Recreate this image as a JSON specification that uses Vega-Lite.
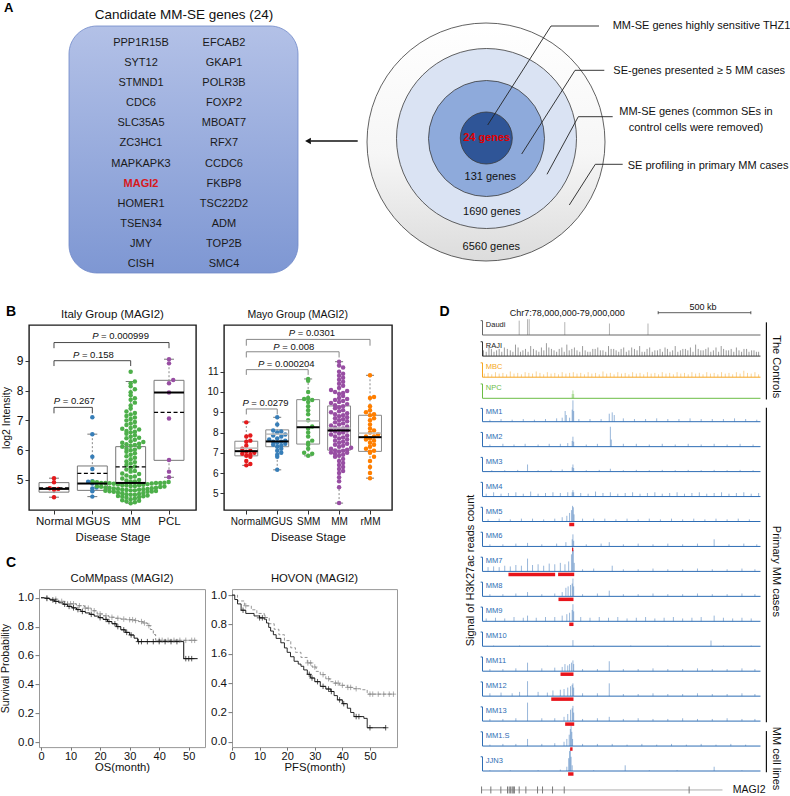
{
"$schema":"https://vega.github.io/schema/vega-lite/v6.json",
"padding":0,
"background":"white",
"spacing":12,
"bounds":"full",
"config":{
 "font":"Liberation Sans",
 "view":{"stroke":null},
 "axis":{"grid":false,"domain":false,"labelColor":"#111","titleColor":"#111","tickColor":"#333","titleFontWeight":"normal","labelFont":"Liberation Sans","titleFont":"Liberation Sans"},
 "text":{"font":"Liberation Sans"}
},
"datasets":{
 "genes":[
  {"gene":"PPP1R15B","col":1,"row":1},{"gene":"EFCAB2","col":2,"row":1},
  {"gene":"SYT12","col":1,"row":2},{"gene":"GKAP1","col":2,"row":2},
  {"gene":"STMND1","col":1,"row":3},{"gene":"POLR3B","col":2,"row":3},
  {"gene":"CDC6","col":1,"row":4},{"gene":"FOXP2","col":2,"row":4},
  {"gene":"SLC35A5","col":1,"row":5},{"gene":"MBOAT7","col":2,"row":5},
  {"gene":"ZC3HC1","col":1,"row":6},{"gene":"RFX7","col":2,"row":6},
  {"gene":"MAPKAPK3","col":1,"row":7},{"gene":"CCDC6","col":2,"row":7},
  {"gene":"MAGI2","col":1,"row":8},{"gene":"FKBP8","col":2,"row":8},
  {"gene":"HOMER1","col":1,"row":9},{"gene":"TSC22D2","col":2,"row":9},
  {"gene":"TSEN34","col":1,"row":10},{"gene":"ADM","col":2,"row":10},
  {"gene":"JMY","col":1,"row":11},{"gene":"TOP2B","col":2,"row":11},
  {"gene":"CISH","col":1,"row":12},{"gene":"SMC4","col":2,"row":12}
 ],
 "circles":[
  {"k":"c1","x":485,"y":142,"r":119},
  {"k":"c2","x":485.5,"y":138.5,"r":90},
  {"k":"c3","x":485.5,"y":138.5,"r":58},
  {"k":"c4","x":485.3,"y":138,"r":26}
 ],
 "atext":[
  {"role":"title","txt":"Candidate MM-SE genes (24)","x":183,"y":15},
  {"role":"letter","txt":"A","x":3,"y":8},
  {"role":"core","txt":"24 genes","x":485.7,"y":137.7},
  {"role":"count","txt":"131 genes","x":489.2,"y":177.3},
  {"role":"count","txt":"1690 genes","x":490.8,"y":212.3},
  {"role":"count","txt":"6560 genes","x":490.3,"y":247},
  {"role":"note","txt":"MM-SE genes highly sensitive THZ1","x":611.7,"y":26},
  {"role":"note","txt":"SE-genes presented ≥ 5 MM cases","x":612.3,"y":71},
  {"role":"note","txt":"SE profiling in primary MM cases","x":626.7,"y":165.5},
  {"role":"note2","txt":"MM-SE genes (common SEs in","x":695,"y":112.3},
  {"role":"note2","txt":"control cells were removed)","x":695,"y":127.8}
 ],
 "callouts":[
  {"id":1,"o":1,"x":486.7,"y":125},{"id":1,"o":2,"x":550,"y":26},{"id":1,"o":3,"x":598,"y":26},
  {"id":2,"o":1,"x":520.7,"y":154},{"id":2,"o":2,"x":574,"y":70.3},{"id":2,"o":3,"x":603.3,"y":70.3},
  {"id":3,"o":1,"x":546,"y":174.3},{"id":3,"o":2,"x":577.3,"y":116.7},{"id":3,"o":3,"x":611.7,"y":116.7},
  {"id":4,"o":1,"x":568.3,"y":205},{"id":4,"o":2,"x":594.3,"y":164.3},{"id":4,"o":3,"x":621.7,"y":164.3}
 ],
 "itS":[
  {"g":"Normal","i":1,"lo":4.42,"q1":4.59,"med":4.70,"q3":4.91,"hi":5.06,"mean":4.73},
  {"g":"MGUS","i":2,"lo":4.44,"q1":4.65,"med":4.88,"q3":5.47,"hi":6.54,"mean":5.22},
  {"g":"MM","i":3,"lo":4.22,"q1":4.90,"med":4.90,"q3":6.12,"hi":8.31,"mean":5.44},
  {"g":"PCL","i":4,"lo":5.09,"q1":5.66,"med":7.94,"q3":8.35,"hi":9.06,"mean":7.27}
 ],
 "itP":[
  {"g":"Normal","i":1,"v":[5.06,4.92,4.72,4.70,4.68,4.42]},
  {"g":"MGUS","i":2,"v":[7.11,6.54,5.78,5.37,4.96,4.94,4.9,4.88,4.75,4.71,4.62,4.44]},
  {"g":"MM","i":3,"v":[4.22,4.25,4.28,4.3,4.32,4.35,4.38,4.4,4.42,4.44,4.45,4.46,4.48,4.5,4.5,4.52,4.53,4.55,4.56,4.58,4.6,4.6,4.61,4.62,4.63,4.64,4.65,4.65,4.66,4.67,4.68,4.69,4.7,4.7,4.71,4.72,4.73,4.74,4.75,4.76,4.77,4.78,4.79,4.8,4.8,4.81,4.82,4.83,4.84,4.85,4.86,4.87,4.88,4.89,4.9,4.9,4.9,4.9,4.91,4.92,4.93,4.94,4.95,4.95,4.98,5.0,5.05,5.1,5.12,5.15,5.2,5.22,5.28,5.3,5.35,5.4,5.45,5.5,5.55,5.6,5.62,5.7,5.75,5.8,5.85,5.9,5.95,6.0,6.02,6.05,6.1,6.12,6.15,6.18,6.2,6.22,6.25,6.28,6.3,6.35,6.4,6.42,6.45,6.5,6.55,6.6,6.62,6.65,6.7,6.72,6.75,6.8,6.85,6.9,6.95,7.0,7.05,7.1,7.15,7.2,7.25,7.3,7.4,7.5,7.6,7.7,7.75,7.85,7.95,8.05,8.15,8.25,8.31,8.64]},
  {"g":"PCL","i":4,"v":[9.06,8.92,8.36,8.25,7.94,7.07,5.67,5.28,5.09]}
 ],
 "itB":[
  {"l":"P = 0.267","i1":1,"i2":2,"top":7.44,"drop":7.24,"ty":7.66},
  {"l":"P = 0.158","i1":1,"i2":3,"top":9.01,"drop":8.83,"ty":9.20},
  {"l":"P = 0.000999","i1":1,"i2":4,"top":9.62,"drop":9.43,"ty":9.85}
 ],
 "mayS":[
  {"g":"Normal","i":1,"lo":6.38,"q1":6.85,"med":7.08,"q3":7.57,"hi":8.52,"mean":7.23},
  {"g":"MGUS","i":2,"lo":6.16,"q1":7.30,"med":7.56,"q3":8.13,"hi":8.75,"mean":7.92},
  {"g":"SMM","i":3,"lo":6.85,"q1":7.43,"med":8.26,"q3":9.62,"hi":10.64,"mean":8.57},
  {"g":"MM","i":4,"lo":4.52,"q1":7.13,"med":8.10,"q3":9.31,"hi":11.49,"mean":8.22},
  {"g":"rMM","i":5,"lo":5.75,"q1":7.07,"med":7.77,"q3":8.85,"hi":10.82,"mean":7.97}
 ],
 "mayP":[
  {"g":"Normal","i":1,"v":[8.5,7.85,7.8,7.6,7.55,7.35,7.2,7.1,7.05,7.0,6.95,6.9,6.85,6.8,6.6,6.45,6.38]},
  {"g":"MGUS","i":2,"v":[8.75,8.4,8.1,8.05,8.0,7.9,7.85,7.8,7.7,7.65,7.6,7.55,7.55,7.5,7.45,7.4,7.35,7.3,7.2,7.1,7.0,6.9,6.8,6.16]},
  {"g":"SMM","i":3,"v":[10.64,10.55,10.0,9.7,9.65,9.6,9.5,9.3,9.1,8.9,8.6,8.3,8.2,8.0,7.8,7.6,7.5,7.4,7.2,7.0,6.95,6.85]},
  {"g":"MM","i":4,"v":[11.49,11.3,11.2,11.0,10.9,10.8,10.7,10.6,10.5,10.4,10.3,10.2,10.1,10.05,10.0,9.95,9.9,9.8,9.7,9.65,9.6,9.55,9.5,9.45,9.4,9.35,9.3,9.25,9.2,9.1,9.05,9.0,8.95,8.9,8.85,8.8,8.75,8.7,8.65,8.6,8.55,8.5,8.45,8.4,8.35,8.3,8.25,8.2,8.15,8.12,8.1,8.05,8.0,7.95,7.9,7.85,7.8,7.75,7.7,7.65,7.6,7.55,7.5,7.45,7.4,7.35,7.3,7.25,7.2,7.15,7.12,7.1,7.05,7.02,7.0,6.95,6.9,6.85,6.8,6.7,6.6,6.5,6.4,6.3,6.2,6.1,6.0,5.8,5.6,5.3,4.52]},
  {"g":"rMM","i":5,"v":[10.82,9.75,9.7,9.3,9.1,9.0,8.9,8.85,8.7,8.6,8.4,8.2,8.1,8.0,7.9,7.8,7.8,7.7,7.65,7.6,7.5,7.4,7.3,7.2,7.1,7.05,7.0,6.8,6.6,6.3,6.0,5.75]}
 ],
 "mayB":[
  {"l":"P = 0.0279","i1":1,"i2":2,"top":9.16,"drop":8.89,"ty":9.46},
  {"l":"P = 0.000204","i1":1,"i2":3,"top":11.10,"drop":10.84,"ty":11.38},
  {"l":"P = 0.008","i1":1,"i2":4,"top":11.98,"drop":11.70,"ty":12.23},
  {"l":"P = 0.0301","i1":1,"i2":5,"top":12.59,"drop":12.28,"ty":12.89}
 ],
 "km":[
  {"study":"CoMM","grp":"Bottom 50%","pt":[[0,1.0],[3,0.99],[6,0.975],[9,0.958],[12,0.945],[14.7,0.928],[17,0.91],[19,0.888],[21,0.875],[23,0.865],[24.8,0.858],[27,0.852],[29,0.848],[31.6,0.842],[33,0.835],[34.5,0.825],[36,0.807],[37,0.78],[38,0.745],[38.8,0.705],[53,0.705]]},
  {"study":"CoMM","grp":"Top 50%","pt":[[0,1.0],[1.5,0.995],[3,0.985],[4.5,0.975],[6,0.965],[7.5,0.955],[9,0.94],[10.5,0.93],[12,0.918],[13.5,0.905],[15,0.895],[16.5,0.885],[18,0.873],[19.5,0.862],[21,0.85],[22.5,0.835],[24,0.82],[25.5,0.8],[27,0.778],[28.5,0.76],[30,0.742],[31.5,0.72],[32.7,0.696],[48.3,0.578],[53,0.578]]},
  {"study":"HOVON","grp":"Bottom 50%","pt":[[0,1.0],[2,0.96],[4.5,0.927],[7,0.9],[9,0.875],[11.7,0.847],[13.5,0.805],[15.3,0.767],[17,0.73],[19,0.69],[21.3,0.641],[23,0.61],[25,0.575],[27.3,0.538],[29,0.51],[30.5,0.48],[32,0.458],[34,0.43],[35.5,0.41],[37,0.4],[39,0.385],[41.8,0.371],[44,0.362],[46.6,0.355],[49,0.325],[58.7,0.325]]},
  {"study":"HOVON","grp":"Top 50%","pt":[[0,1.0],[1,0.97],[2,0.94],[3.3,0.897],[5,0.875],[8,0.858],[10,0.845],[11.7,0.835],[12.5,0.81],[13.3,0.78],[14,0.755],[15,0.73],[16,0.705],[17.7,0.675],[19,0.64],[20,0.61],[21.2,0.58],[22.5,0.549],[24,0.53],[25,0.515],[26,0.49],[27.3,0.46],[28.5,0.435],[30,0.41],[32,0.378],[34,0.36],[35.8,0.343],[37,0.315],[38.2,0.286],[40,0.26],[41.8,0.229],[43,0.2],[44.2,0.172],[47.8,0.16],[49,0.096],[55.7,0.096]]}
 ],
 "cens":[
  {"study":"CoMM","grp":"Top 50%","pt":[[2,0.995],[4,0.985],[5,0.975],[8,0.955],[9.5,0.94],[11,0.93],[12.5,0.918],[14,0.905],[17,0.885],[20,0.862],[22,0.85],[23,0.835],[25,0.82],[26,0.8],[28,0.778],[29,0.76],[30.5,0.742],[33,0.696],[34,0.696],[36,0.696],[38,0.696],[40,0.696],[42,0.696],[44,0.696],[46,0.696],[49,0.578],[50,0.578],[51,0.578]]},
  {"study":"CoMM","grp":"Bottom 50%","pt":[[2,1.0],[5,0.99],[7,0.975],[10,0.958],[11,0.958],[13,0.945],[15,0.928],[16,0.928],[18,0.91],[20,0.888],[22,0.875],[24,0.865],[26,0.858],[28,0.852],[30,0.848],[31,0.848],[32,0.842],[34,0.835],[35,0.825],[36.5,0.807],[40,0.705],[41,0.705],[43,0.705],[45,0.705],[47,0.705],[49,0.705],[51,0.705],[52,0.705]]},
  {"study":"HOVON","grp":"Top 50%","pt":[[4,0.897],[10,0.845],[11,0.845],[28,0.46],[29,0.435],[31,0.41],[33,0.378],[35,0.36],[36,0.343],[39,0.286],[40.5,0.26],[45,0.172],[46,0.172],[50,0.096],[55.7,0.096]]},
  {"study":"HOVON","grp":"Bottom 50%","pt":[[5,0.927],[12,0.847],[27.5,0.538],[28.5,0.538],[30,0.51],[33,0.458],[35,0.43],[37.5,0.4],[38.5,0.4],[40,0.385],[42,0.371],[43,0.371],[45,0.362],[50,0.325],[51,0.325],[53,0.325],[55,0.325],[57,0.325],[58.5,0.325]]}
 ],
 "tracks":[
  {"t":"Daudi","i":0},{"t":"RAJI","i":1},{"t":"MBC","i":2},{"t":"NPC","i":3},
  {"t":"MM1","i":4},{"t":"MM2","i":5},{"t":"MM3","i":6},{"t":"MM4","i":7},{"t":"MM5","i":8},
  {"t":"MM6","i":9},{"t":"MM7","i":10},{"t":"MM8","i":11},{"t":"MM9","i":12},{"t":"MM10","i":13},
  {"t":"MM11","i":14},{"t":"MM12","i":15},{"t":"MM13","i":16},{"t":"MM1.S","i":17},{"t":"JJN3","i":18}
 ],
 "spk":[
  {"t":"Daudi","i":0,"s":[[198,1.0],[243,1.1],[252,1.1],[444,0.9],[685,0.8],[893,0.8]]},
  {"t":"RAJI","i":1,"s":[[5,0.4],[20,0.3],[35,0.7],[48,0.5],[62,0.3],[76,0.4],[90,0.5],[104,0.3],[118,0.6],[134,0.5],[150,0.4],[164,0.3],[178,0.8],[192,0.6],[205,0.3],[218,0.4],[232,0.5],[246,0.3],[260,0.7],[275,0.5],[290,0.4],[304,0.3],[318,0.6],[331,0.4],[345,0.9],[358,0.6],[372,0.5],[386,0.4],[400,0.3],[414,0.5],[428,0.6],[441,0.3],[455,0.8],[468,0.4],[482,0.5],[496,0.6],[510,0.4],[525,0.3],[540,0.7],[554,0.4],[568,0.3],[581,0.3],[595,0.5],[608,0.5],[622,0.6],[636,0.4],[650,0.4],[665,0.3],[680,0.7],[694,0.5],[708,0.5],[721,0.4],[735,0.3],[748,0.5],[762,0.6],[776,0.3],[790,0.4],[805,0.6],[820,0.5],[834,0.4],[848,0.7],[861,0.3],[875,0.3],[888,0.5],[902,0.6],[916,0.3],[930,0.4],[944,0.4],[958,0.5],[971,0.3],[985,0.6],[998,0.5],[1012,0.3],[1026,0.4],[1040,0.7],[1054,0.3],[1068,0.4],[1081,0.5],[1095,0.5],[1108,0.4],[1122,0.6],[1136,0.3],[1150,0.8],[1164,0.5],[1178,0.4],[1191,0.4],[1205,0.5],[1218,0.6],[1232,0.3],[1246,0.4],[1260,0.6],[1274,0.3],[1288,0.7],[1301,0.5],[1315,0.4],[1328,0.4],[1342,0.5],[1356,0.3],[1370,0.6],[1384,0.4],[1398,0.3],[1411,0.5],[1425,0.5],[1438,0.3],[1452,0.4],[1465,0.4],[1478,0.3],[1490,0.3]]},
  {"t":"MBC","i":2,"s":[[10,0.25],[30,0.3],[50,0.2],[70,0.35],[90,0.25],[110,0.3],[130,0.2],[150,0.4],[170,0.25],[190,0.3],[210,0.2],[230,0.35],[250,0.3],[270,0.25],[290,0.4],[310,0.3],[330,0.2],[350,0.35],[370,0.25],[390,0.3],[410,0.2],[430,0.35],[450,0.25],[470,0.3],[490,0.35],[510,0.25],[530,0.3],[550,0.2],[570,0.35],[590,0.25],[610,0.3],[630,0.2],[650,0.4],[670,0.25],[690,0.3],[710,0.2],[730,0.35],[750,0.25],[770,0.3],[790,0.2],[810,0.35],[830,0.25],[850,0.3],[870,0.2],[890,0.35],[910,0.25],[930,0.3],[950,0.2],[970,0.35],[990,0.25],[1010,0.3],[1030,0.2],[1050,0.35],[1070,0.25],[1090,0.3],[1110,0.2],[1130,0.35],[1150,0.25],[1170,0.3],[1190,0.2],[1210,0.35],[1230,0.25],[1250,0.3],[1270,0.2],[1290,0.35],[1310,0.25],[1330,0.3],[1350,0.2],[1370,0.35],[1390,0.25],[1410,0.45],[1430,0.3],[1450,0.25],[1470,0.35],[1490,0.2]]},
  {"t":"NPC","i":3,"s":[[484,0.3],[488,0.55],[492,0.3]]},
  {"t":"MM1","i":4,"s":[[40,0.15],[100,0.2],[160,0.15],[220,0.2],[280,0.15],[340,0.2],[400,0.25],[430,0.3],[446,0.8],[452,0.5],[470,0.3],[484,0.9],[488,1.6],[492,0.8],[520,0.2],[580,0.2],[640,0.2],[684,0.6],[700,0.7],[711,0.5],[760,0.25],[820,0.2],[880,0.2],[940,0.25],[1000,0.2],[1060,0.2],[1120,0.25],[1180,0.2],[1240,0.2],[1300,0.2],[1360,0.25],[1420,0.2],[1480,0.15]]},
  {"t":"MM2","i":5,"s":[[40,0.15],[110,0.2],[170,0.15],[230,0.2],[300,0.15],[360,0.2],[420,0.2],[460,0.25],[484,0.4],[488,0.7],[492,0.35],[560,0.15],[620,0.2],[690,1.4],[695,0.5],[760,0.2],[830,0.2],[900,0.15],[970,0.2],[1040,0.15],[1110,0.2],[1180,0.15],[1250,0.2],[1320,0.15],[1390,0.2],[1460,0.15]]},
  {"t":"MM3","i":6,"s":[[50,0.1],[120,0.1],[190,0.12],[243,0.5],[300,0.1],[370,0.12],[430,0.15],[484,0.3],[488,0.5],[492,0.25],[560,0.1],[630,0.12],[690,0.2],[760,0.1],[830,0.12],[900,0.1],[970,0.12],[1040,0.1],[1110,0.12],[1180,0.1],[1250,0.12],[1320,0.1],[1390,0.12],[1460,0.1]]},
  {"t":"MM4","i":7,"s":[[20,0.2],[60,0.3],[100,0.2],[140,0.25],[180,0.3],[220,0.2],[260,0.35],[300,0.2],[340,0.25],[380,0.3],[420,0.25],[460,0.3],[484,0.3],[488,0.45],[492,0.3],[530,0.25],[570,0.2],[610,0.35],[650,0.25],[690,0.3],[730,0.2],[770,0.25],[810,0.3],[850,0.2],[890,0.25],[930,0.3],[970,0.2],[1010,0.25],[1050,0.3],[1090,0.2],[1130,0.25],[1170,0.3],[1210,0.2],[1250,0.25],[1290,0.3],[1330,0.2],[1370,0.25],[1410,0.3],[1450,0.2],[1490,0.25]]},
  {"t":"MM5","i":8,"s":[[30,0.15],[90,0.2],[150,0.15],[210,0.2],[270,0.2],[330,0.15],[390,0.2],[430,0.3],[455,0.4],[470,0.6],[480,0.8],[486,1.1],[490,1.0],[494,0.5],[540,0.2],[600,0.2],[660,0.2],[720,0.15],[780,0.2],[840,0.15],[900,0.2],[960,0.15],[1020,0.2],[1080,0.15],[1140,0.2],[1200,0.15],[1260,0.2],[1320,0.15],[1380,0.2],[1440,0.15]]},
  {"t":"MM6","i":9,"s":[[40,0.15],[110,0.15],[180,0.2],[243,0.25],[320,0.15],[400,0.2],[450,0.3],[484,0.5],[488,0.85],[492,0.4],[560,0.15],[640,0.2],[684,0.3],[760,0.15],[840,0.2],[920,0.15],[1000,0.2],[1080,0.15],[1160,0.2],[1250,0.5],[1330,0.15],[1410,0.2],[1480,0.15]]},
  {"t":"MM7","i":10,"s":[[30,0.3],[60,0.35],[90,0.3],[120,0.4],[150,0.35],[180,0.45],[210,0.4],[243,0.9],[270,0.45],[300,0.5],[330,0.4],[360,0.55],[390,0.5],[420,0.6],[445,0.5],[465,0.7],[480,1.2],[486,1.75],[490,1.5],[495,0.6],[540,0.15],[600,0.2],[700,0.4],[760,0.15],[840,0.15],[920,0.2],[1000,0.15],[1080,0.15],[1160,0.2],[1240,0.15],[1320,0.15],[1400,0.2],[1470,0.15]]},
  {"t":"MM8","i":11,"s":[[40,0.15],[110,0.15],[180,0.2],[243,0.3],[320,0.15],[390,0.2],[430,0.3],[450,0.6],[462,0.7],[475,0.8],[484,0.9],[488,1.25],[492,0.7],[540,0.15],[620,0.2],[684,0.4],[760,0.15],[840,0.15],[920,0.2],[1000,0.15],[1080,0.15],[1160,0.2],[1240,0.15],[1320,0.15],[1400,0.2],[1470,0.15]]},
  {"t":"MM9","i":12,"s":[[20,0.2],[70,0.25],[120,0.2],[170,0.3],[220,0.25],[243,0.4],[290,0.25],[340,0.3],[390,0.3],[430,0.4],[455,0.5],[470,0.6],[484,0.8],[488,1.2],[492,0.7],[530,0.3],[580,0.25],[630,0.3],[680,0.25],[730,0.3],[780,0.2],[830,0.25],[880,0.3],[930,0.2],[980,0.25],[1030,0.3],[1080,0.2],[1130,0.25],[1180,0.3],[1250,0.4],[1300,0.25],[1350,0.2],[1400,0.25],[1450,0.2]]},
  {"t":"MM10","i":13,"s":[[60,0.05],[200,0.05],[350,0.05],[488,0.43],[600,0.05],[800,0.05],[1000,0.05],[1233,0.4],[1300,0.05],[1450,0.05]]},
  {"t":"MM11","i":14,"s":[[40,0.15],[110,0.15],[180,0.2],[243,0.6],[320,0.2],[390,0.25],[430,0.3],[445,0.5],[460,0.4],[470,0.5],[480,0.6],[488,0.76],[492,0.5],[540,0.15],[620,0.15],[684,0.7],[760,0.15],[840,0.15],[920,0.2],[1000,0.15],[1080,0.15],[1160,0.2],[1240,0.15],[1320,0.15],[1400,0.2],[1470,0.15]]},
  {"t":"MM12","i":15,"s":[[40,0.2],[100,0.25],[160,0.2],[200,0.3],[243,1.05],[300,0.3],[350,0.25],[380,0.4],[420,0.45],[440,0.5],[460,0.6],[475,0.7],[484,0.8],[488,0.9],[492,0.6],[540,0.2],[620,0.2],[684,0.9],[760,0.15],[840,0.15],[920,0.2],[1000,0.15],[1080,0.15],[1160,0.2],[1240,0.15],[1320,0.15],[1400,0.2],[1470,0.15]]},
  {"t":"MM13","i":16,"s":[[40,0.15],[110,0.15],[180,0.2],[243,1.3],[320,0.2],[390,0.2],[440,0.3],[460,0.5],[475,0.8],[484,0.9],[488,1.07],[492,0.6],[540,0.15],[620,0.2],[684,0.3],[760,0.15],[840,0.2],[920,0.15],[1000,0.15],[1080,0.2],[1160,0.15],[1240,0.15],[1320,0.2],[1400,0.15],[1470,0.15]]},
  {"t":"MM1.S","i":17,"s":[[40,0.1],[110,0.15],[180,0.15],[243,0.5],[320,0.15],[390,0.2],[440,0.3],[455,0.5],[468,0.8],[474,1.2],[478,1.43],[482,1.0],[486,0.5],[540,0.15],[620,0.15],[700,0.15],[780,0.1],[860,0.15],[940,0.1],[1020,0.15],[1100,0.1],[1180,0.15],[1260,0.1],[1340,0.15],[1420,0.1]]},
  {"t":"JJN3","i":18,"s":[[40,0.05],[150,0.05],[300,0.05],[420,0.1],[455,0.3],[465,0.9],[470,1.4],[474,1.6],[478,1.0],[484,0.4],[600,0.05],[770,0.4],[900,0.05],[1050,0.05],[1250,0.3],[1400,0.05]]}
 ],
 "se":[
  {"t":"MM5","i":8,"a":468,"b":495},{"t":"MM6","i":9,"a":483,"b":490},
  {"t":"MM7","i":10,"a":140,"b":392},{"t":"MM7","i":10,"a":408,"b":495},
  {"t":"MM8","i":11,"a":410,"b":491},{"t":"MM9","i":12,"a":468,"b":491},
  {"t":"MM11","i":14,"a":421,"b":491},{"t":"MM12","i":15,"a":371,"b":491},
  {"t":"MM13","i":16,"a":446,"b":495},{"t":"MM1.S","i":17,"a":473,"b":486},
  {"t":"JJN3","i":18,"a":462,"b":491}
 ],
 "groups":[
  {"g":"The Controls","a":0,"b":3},
  {"g":"Primary MM cases","a":4,"b":16},
  {"g":"MM cell lines","a":17,"b":18}
 ],
 "exons":[{"p":[-5,45,99,135,144,152,160,166,172,198,234,297,324,378,441,1115]}]
},
"vconcat":[
 {
  "width":762,"height":290,
  "encoding":{
   "x":{"field":"x","type":"quantitative","scale":{"domain":[28,790],"nice":false,"zero":false},"axis":null},
   "y":{"field":"y","type":"quantitative","scale":{"domain":[0,290],"nice":false,"zero":false,"reverse":true},"axis":null}
  },
  "layer":[
   {"data":{"values":[{"x":68,"x2":297,"y":26,"y2":273}]},
    "mark":{"type":"rect","cornerRadius":28,"stroke":"#6f88c8","strokeWidth":0.8,
      "fill":{"gradient":"linear","x1":0,"y1":0,"x2":0,"y2":1,"stops":[{"offset":0,"color":"#b3c1e7"},{"offset":1,"color":"#7e97d3"}]}},
    "encoding":{"x2":{"field":"x2"},"y2":{"field":"y2"}}},
   {"data":{"name":"genes"},
    "transform":[{"filter":"datum.gene != 'MAGI2'"},{"calculate":"57 + 83*datum.col","as":"x"},{"calculate":"22.55 + 20.15*datum.row","as":"y"}],
    "mark":{"type":"text","fontSize":11,"color":"#1a1a1a","baseline":"middle","align":"center"},
    "encoding":{"text":{"field":"gene"}}},
   {"data":{"name":"genes"},
    "transform":[{"filter":"datum.gene == 'MAGI2'"},{"calculate":"57 + 83*datum.col","as":"x"},{"calculate":"22.55 + 20.15*datum.row","as":"y"}],
    "mark":{"type":"text","fontSize":11,"fontWeight":"bold","color":"#d7191c","baseline":"middle","align":"center"},
    "encoding":{"text":{"field":"gene"}}},
   {"data":{"values":[{"x":356.7,"x2":310,"y":141}]},
    "mark":{"type":"rule","color":"#111","strokeWidth":1.3},
    "encoding":{"x2":{"field":"x2"}}},
   {"data":{"values":[{"x":307,"y":141}]},
    "mark":{"type":"point","shape":"triangle-left","filled":true,"size":45,"color":"#111","opacity":1}},
   {"data":{"name":"circles"},
    "transform":[{"filter":"datum.k == 'c1'"},{"calculate":"pow(2*datum.r,2)","as":"sz"}],
    "mark":{"type":"point","shape":"circle","filled":true,"opacity":1,"stroke":"#3a3a3a","strokeWidth":0.8,
      "fill":{"gradient":"linear","x1":0,"y1":0,"x2":0,"y2":1,"stops":[{"offset":0,"color":"#ffffff"},{"offset":0.55,"color":"#f6f6f6"},{"offset":1,"color":"#dcdcdc"}]}},
    "encoding":{"size":{"field":"sz","type":"quantitative","scale":null}}},
   {"data":{"name":"circles"},
    "transform":[{"filter":"datum.k == 'c2'"},{"calculate":"pow(2*datum.r,2)","as":"sz"}],
    "mark":{"type":"point","shape":"circle","filled":true,"opacity":1,"stroke":"#3a3a3a","strokeWidth":0.8,"fill":"#dae3f3"},
    "encoding":{"size":{"field":"sz","type":"quantitative","scale":null}}},
   {"data":{"name":"circles"},
    "transform":[{"filter":"datum.k == 'c3'"},{"calculate":"pow(2*datum.r,2)","as":"sz"}],
    "mark":{"type":"point","shape":"circle","filled":true,"opacity":1,"stroke":"#3a3a3a","strokeWidth":0.8,"fill":"#8eaadb"},
    "encoding":{"size":{"field":"sz","type":"quantitative","scale":null}}},
   {"data":{"name":"circles"},
    "transform":[{"filter":"datum.k == 'c4'"},{"calculate":"pow(2*datum.r,2)","as":"sz"}],
    "mark":{"type":"point","shape":"circle","filled":true,"opacity":1,"stroke":"#3a3a3a","strokeWidth":0.8,"fill":"#2f5597"},
    "encoding":{"size":{"field":"sz","type":"quantitative","scale":null}}},
   {"data":{"name":"callouts"},
    "mark":{"type":"line","color":"#222","strokeWidth":0.9},
    "encoding":{"detail":{"field":"id"},"order":{"field":"o"}}},
   {"data":{"name":"atext"},"transform":[{"filter":"datum.role == 'title'"}],
    "mark":{"type":"text","fontSize":13.5,"align":"center","baseline":"middle","color":"#111"},
    "encoding":{"text":{"field":"txt"}}},
   {"data":{"name":"atext"},"transform":[{"filter":"datum.role == 'letter'"}],
    "mark":{"type":"text","fontSize":13,"fontWeight":"bold","align":"left","baseline":"middle","color":"#000"},
    "encoding":{"text":{"field":"txt"}}},
   {"data":{"name":"atext"},"transform":[{"filter":"datum.role == 'core'"}],
    "mark":{"type":"text","fontSize":11,"fontWeight":"bold","align":"center","baseline":"middle","color":"#e00000"},
    "encoding":{"text":{"field":"txt"}}},
   {"data":{"name":"atext"},"transform":[{"filter":"datum.role == 'count'"}],
    "mark":{"type":"text","fontSize":11,"align":"center","baseline":"middle","color":"#111"},
    "encoding":{"text":{"field":"txt"}}},
   {"data":{"name":"atext"},"transform":[{"filter":"datum.role == 'note'"}],
    "mark":{"type":"text","fontSize":11,"align":"left","baseline":"middle","color":"#111"},
    "encoding":{"text":{"field":"txt"}}},
   {"data":{"name":"atext"},"transform":[{"filter":"datum.role == 'note2'"}],
    "mark":{"type":"text","fontSize":11,"align":"center","baseline":"middle","color":"#111"},
    "encoding":{"text":{"field":"txt"}}}
  ]
 },
 {
  "hconcat":[
   {
    "vconcat":[
     {
      "hconcat":[
       {
        "width":167,"height":185,
        "view":{"stroke":"#1a1a1a","strokeWidth":1.4},
        "encoding":{
         "x":{"field":"x","type":"quantitative","scale":{"domain":[0.348,4.704],"nice":false,"zero":false},
           "axis":{"values":[1,2,3,4],"labelExpr":"['','Normal','MGUS','MM','PCL'][datum.value]","title":"Disease Stage","tickSize":4,"labelPadding":1.75,"titlePadding":4.5,"labelFontSize":11.5,"titleFontSize":11.5,"labelOverlap":false,"labelFlush":false}},
         "y":{"field":"y","type":"quantitative","scale":{"domain":[3.99,10.21],"nice":false,"zero":false},
           "axis":{"values":[5,6,7,8,9],"title":"log2 Intensity","tickSize":4,"labelPadding":2,"titlePadding":4.8,"labelFontSize":12,"titleFontSize":10.5}}
        },
        "layer":[
         {"data":{"name":"itS"},"transform":[{"calculate":"datum.i","as":"x"},{"calculate":"datum.hi","as":"y"}],
          "mark":{"type":"rule","color":"#888","strokeDash":[2,2]},"encoding":{"y2":{"field":"q3"}}},
         {"data":{"name":"itS"},"transform":[{"calculate":"datum.i","as":"x"},{"calculate":"datum.lo","as":"y"}],
          "mark":{"type":"rule","color":"#888","strokeDash":[2,2]},"encoding":{"y2":{"field":"q1"}}},
         {"data":{"name":"itS"},"transform":[{"calculate":"datum.i-0.13","as":"x"},{"calculate":"datum.i+0.13","as":"x2"},{"calculate":"datum.hi","as":"y"}],
          "mark":{"type":"rule","color":"#777"},"encoding":{"x2":{"field":"x2"}}},
         {"data":{"name":"itS"},"transform":[{"calculate":"datum.i-0.13","as":"x"},{"calculate":"datum.i+0.13","as":"x2"},{"calculate":"datum.lo","as":"y"}],
          "mark":{"type":"rule","color":"#777"},"encoding":{"x2":{"field":"x2"}}},
         {"data":{"name":"itS"},"transform":[{"calculate":"datum.i-0.39","as":"x"},{"calculate":"datum.i+0.39","as":"x2"},{"calculate":"datum.q1","as":"y"}],
          "mark":{"type":"rect","fill":"white","fillOpacity":0,"stroke":"#777","strokeWidth":1},"encoding":{"x2":{"field":"x2"},"y2":{"field":"q3"}}},
         {"data":{"name":"itP"},
          "transform":[{"flatten":["v"]},{"calculate":"floor(datum.v/0.15)","as":"b"},
            {"window":[{"op":"row_number","as":"rn"}],"groupby":["g","b"],"sort":[{"field":"v","order":"ascending"}]},
            {"calculate":"datum.i + (datum.rn % 2 == 0 ? 1 : -1) * floor(datum.rn/2) * 0.11","as":"x"},
            {"calculate":"datum.v","as":"y"}],
          "mark":{"type":"circle","size":20,"opacity":1},
          "encoding":{"color":{"condition":[{"test":"datum.g == 'Normal'","value":"#e41a1c"},{"test":"datum.g == 'MGUS'","value":"#377eb8"},{"test":"datum.g == 'MM'","value":"#4daf4a"}],"value":"#984ea3"}}},
         {"data":{"name":"itS"},"transform":[{"calculate":"datum.i-0.39","as":"x"},{"calculate":"datum.i+0.39","as":"x2"},{"calculate":"datum.med","as":"y"}],
          "mark":{"type":"rule","color":"#000","strokeWidth":2},"encoding":{"x2":{"field":"x2"}}},
         {"data":{"name":"itS"},"transform":[{"calculate":"datum.i-0.39","as":"x"},{"calculate":"datum.i+0.39","as":"x2"},{"calculate":"datum.mean","as":"y"}],
          "mark":{"type":"rule","color":"#000","strokeWidth":1.3,"strokeDash":[4,2.5]},"encoding":{"x2":{"field":"x2"}}},
         {"data":{"name":"itB"},"transform":[{"calculate":"datum.i1","as":"x"},{"calculate":"datum.i2","as":"x2"},{"calculate":"datum.top","as":"y"}],
          "mark":{"type":"rule","color":"#333","strokeWidth":0.9},"encoding":{"x2":{"field":"x2"}}},
         {"data":{"name":"itB"},"transform":[{"calculate":"datum.i1","as":"x"},{"calculate":"datum.drop","as":"y"}],
          "mark":{"type":"rule","color":"#333","strokeWidth":0.9},"encoding":{"y2":{"field":"top"}}},
         {"data":{"name":"itB"},"transform":[{"calculate":"datum.i2","as":"x"},{"calculate":"datum.drop","as":"y"}],
          "mark":{"type":"rule","color":"#333","strokeWidth":0.9},"encoding":{"y2":{"field":"top"}}},
         {"data":{"name":"itB"},"transform":[{"calculate":"(datum.i1+datum.i2)/2","as":"x"},{"calculate":"datum.ty","as":"y"}],
          "mark":{"type":"text","fontSize":9.5,"fontStyle":"italic","baseline":"middle","align":"right","dx":-13,"color":"#111"},"encoding":{"text":{"value":"P"}}},
         {"data":{"name":"itB"},"transform":[{"calculate":"(datum.i1+datum.i2)/2","as":"x"},{"calculate":"datum.ty","as":"y"},{"calculate":"substring(datum.l, 2)","as":"r"}],
          "mark":{"type":"text","fontSize":9.5,"baseline":"middle","align":"left","dx":-10.4,"color":"#111"},"encoding":{"text":{"field":"r"}}},
         {"data":{"values":[{"txt":"B"}]},
          "transform":[{"calculate":"-0.252","as":"x"},{"calculate":"10.657","as":"y"}],
          "mark":{"type":"text","fontSize":14,"fontWeight":"bold","align":"left","baseline":"middle","color":"#000"},
          "encoding":{"text":{"field":"txt"}}},
         {"data":{"values":[{"txt":"Italy Group (MAGI2)"}]},
          "transform":[{"calculate":"2.526","as":"x"},{"calculate":"10.546","as":"y"}],
          "mark":{"type":"text","fontSize":11.5,"align":"center","baseline":"middle","color":"#111"},
          "encoding":{"text":{"field":"txt"}}}
        ]
       },
       {
        "width":168,"height":185,
        "view":{"stroke":"#1a1a1a","strokeWidth":1.4},
        "encoding":{
         "x":{"field":"x","type":"quantitative","scale":{"domain":[0.279,5.711],"nice":false,"zero":false},
           "axis":{"values":[1,2,3,4,5],"labelExpr":"['','Normal','MGUS','SMM','MM','rMM'][datum.value]","title":"Disease Stage","tickSize":4,"labelPadding":2.2,"titlePadding":5,"labelFontSize":10,"titleFontSize":11.5,"labelOverlap":false,"labelFlush":false}},
         "y":{"field":"y","type":"quantitative","scale":{"domain":[4.18,13.30],"nice":false,"zero":false},
           "axis":{"values":[5,6,7,8,9,10,11],"title":null,"tickSize":4,"labelPadding":2,"labelFontSize":10}}
        },
        "layer":[
         {"data":{"name":"mayS"},"transform":[{"calculate":"datum.i","as":"x"},{"calculate":"datum.hi","as":"y"}],
          "mark":{"type":"rule","color":"#888","strokeDash":[2,2]},"encoding":{"y2":{"field":"q3"}}},
         {"data":{"name":"mayS"},"transform":[{"calculate":"datum.i","as":"x"},{"calculate":"datum.lo","as":"y"}],
          "mark":{"type":"rule","color":"#888","strokeDash":[2,2]},"encoding":{"y2":{"field":"q1"}}},
         {"data":{"name":"mayS"},"transform":[{"calculate":"datum.i-0.13","as":"x"},{"calculate":"datum.i+0.13","as":"x2"},{"calculate":"datum.hi","as":"y"}],
          "mark":{"type":"rule","color":"#777"},"encoding":{"x2":{"field":"x2"}}},
         {"data":{"name":"mayS"},"transform":[{"calculate":"datum.i-0.13","as":"x"},{"calculate":"datum.i+0.13","as":"x2"},{"calculate":"datum.lo","as":"y"}],
          "mark":{"type":"rule","color":"#777"},"encoding":{"x2":{"field":"x2"}}},
         {"data":{"name":"mayS"},"transform":[{"calculate":"datum.i-0.37","as":"x"},{"calculate":"datum.i+0.37","as":"x2"},{"calculate":"datum.q1","as":"y"}],
          "mark":{"type":"rect","fill":"white","fillOpacity":0,"stroke":"#888","strokeWidth":1},"encoding":{"x2":{"field":"x2"},"y2":{"field":"q3"}}},
         {"data":{"name":"mayP"},
          "transform":[{"flatten":["v"]},{"calculate":"floor(datum.v/0.22)","as":"b"},
            {"window":[{"op":"row_number","as":"rn"}],"groupby":["g","b"],"sort":[{"field":"v","order":"ascending"}]},
            {"calculate":"datum.i + (datum.rn % 2 == 0 ? 1 : -1) * floor(datum.rn/2) * 0.13","as":"x"},
            {"calculate":"datum.v","as":"y"}],
          "mark":{"type":"circle","size":20,"opacity":1},
          "encoding":{"color":{"condition":[{"test":"datum.g == 'Normal'","value":"#e41a1c"},{"test":"datum.g == 'MGUS'","value":"#377eb8"},{"test":"datum.g == 'SMM'","value":"#4daf4a"},{"test":"datum.g == 'MM'","value":"#984ea3"}],"value":"#ff7f00"}}},
         {"data":{"name":"mayS"},"transform":[{"calculate":"datum.i-0.37","as":"x"},{"calculate":"datum.i+0.37","as":"x2"},{"calculate":"datum.mean","as":"y"}],
          "mark":{"type":"rule","color":"#bdbdbd","strokeWidth":1.5},"encoding":{"x2":{"field":"x2"}}},
         {"data":{"name":"mayS"},"transform":[{"calculate":"datum.i-0.37","as":"x"},{"calculate":"datum.i+0.37","as":"x2"},{"calculate":"datum.med","as":"y"}],
          "mark":{"type":"rule","color":"#000","strokeWidth":2},"encoding":{"x2":{"field":"x2"}}},
         {"data":{"name":"mayB"},"transform":[{"calculate":"datum.i1","as":"x"},{"calculate":"datum.i2","as":"x2"},{"calculate":"datum.top","as":"y"}],
          "mark":{"type":"rule","color":"#888","strokeWidth":1},"encoding":{"x2":{"field":"x2"}}},
         {"data":{"name":"mayB"},"transform":[{"calculate":"datum.i1","as":"x"},{"calculate":"datum.drop","as":"y"}],
          "mark":{"type":"rule","color":"#888","strokeWidth":1},"encoding":{"y2":{"field":"top"}}},
         {"data":{"name":"mayB"},"transform":[{"calculate":"datum.i2","as":"x"},{"calculate":"datum.drop","as":"y"}],
          "mark":{"type":"rule","color":"#888","strokeWidth":1},"encoding":{"y2":{"field":"top"}}},
         {"data":{"name":"mayB"},"transform":[{"calculate":"(datum.i1+datum.i2)/2","as":"x"},{"calculate":"datum.ty","as":"y"}],
          "mark":{"type":"text","fontSize":9.5,"fontStyle":"italic","baseline":"middle","align":"right","dx":-13,"color":"#111"},"encoding":{"text":{"value":"P"}}},
         {"data":{"name":"mayB"},"transform":[{"calculate":"(datum.i1+datum.i2)/2","as":"x"},{"calculate":"datum.ty","as":"y"},{"calculate":"substring(datum.l, 2)","as":"r"}],
          "mark":{"type":"text","fontSize":9.5,"baseline":"middle","align":"left","dx":-10.4,"color":"#111"},"encoding":{"text":{"field":"r"}}},
         {"data":{"values":[{"txt":"Mayo Group (MAGI2)"}]},
          "transform":[{"calculate":"2.662","as":"x"},{"calculate":"13.793","as":"y"}],
          "mark":{"type":"text","fontSize":10.5,"align":"center","baseline":"middle","color":"#111"},
          "encoding":{"text":{"field":"txt"}}}
        ]
       }
      ],
      "spacing":28,
      "bounds":"flush"
     },
     {
      "hconcat":[
       {"width":1,"height":1,"data":{"values":[]},"mark":{"type":"point","opacity":0},"encoding":{}},
       {
        "hconcat":[
         {
          "width":166,"height":158,
          "view":{"stroke":"#999","strokeWidth":1},
          "encoding":{
           "x":{"field":"t","type":"quantitative","scale":{"domain":[-0.68,55.5],"nice":false,"zero":false},
             "axis":{"values":[0,10,20,30,40,50],"title":"OS(month)","tickSize":3,"labelPadding":0,"titlePadding":0,"labelFontSize":11,"titleFontSize":11.3,"labelFlush":false,"tickColor":"#777"}},
           "y":{"field":"s","type":"quantitative","scale":{"domain":[-0.035,1.06],"nice":false,"zero":false},
             "axis":{"values":[0,0.2,0.4,0.6,0.8,1.0],"format":".1f","title":"Survival Probability","tickSize":4,"labelPadding":1.5,"titlePadding":7,"labelFontSize":11.5,"titleFontSize":10.5,"tickColor":"#777"}}
          },
          "layer":[
           {"data":{"name":"km"},
            "transform":[{"filter":"datum.study == 'CoMM' && datum.grp == 'Bottom 50%'"},{"flatten":["pt"]},{"calculate":"datum.pt[0]","as":"t"},{"calculate":"datum.pt[1]","as":"s"}],
            "mark":{"type":"line","interpolate":"step-after","strokeWidth":1,"color":"#8a8a8a","strokeDash":[3,2]},
            "encoding":{"order":{"field":"t"}}},
           {"data":{"name":"km"},
            "transform":[{"filter":"datum.study == 'CoMM' && datum.grp == 'Top 50%'"},{"flatten":["pt"]},{"calculate":"datum.pt[0]","as":"t"},{"calculate":"datum.pt[1]","as":"s"}],
            "mark":{"type":"line","interpolate":"step-after","strokeWidth":1,"color":"#111"},
            "encoding":{"order":{"field":"t"}}},
           {"data":{"name":"cens"},
            "transform":[{"filter":"datum.study == 'CoMM' && datum.grp == 'Bottom 50%'"},{"flatten":["pt"]},{"calculate":"datum.pt[0]","as":"t"},{"calculate":"datum.pt[1]","as":"s"}],
            "mark":{"type":"point","shape":"M-1,0L1,0M0,-1L0,1","filled":false,"size":30,"strokeWidth":0.7,"color":"#8a8a8a","opacity":1}},
           {"data":{"name":"cens"},
            "transform":[{"filter":"datum.study == 'CoMM' && datum.grp == 'Top 50%'"},{"flatten":["pt"]},{"calculate":"datum.pt[0]","as":"t"},{"calculate":"datum.pt[1]","as":"s"}],
            "mark":{"type":"point","shape":"M-1,0L1,0M0,-1L0,1","filled":false,"size":30,"strokeWidth":0.7,"color":"#111","opacity":1}},
           {"data":{"values":[{}]},
            "mark":{"type":"text","fontSize":11,"align":"right","baseline":"middle","color":"#111"},
            "encoding":{"x":{"datum":52.5,"type":"quantitative"},"y":{"datum":0.965,"type":"quantitative"},"text":{"value":"= 0.02"}}},
           {"data":{"values":[{}]},
            "mark":{"type":"text","fontSize":11,"fontStyle":"italic","align":"right","baseline":"middle","color":"#111","dx":-34},
            "encoding":{"x":{"datum":52.5,"type":"quantitative"},"y":{"datum":0.965,"type":"quantitative"},"text":{"value":"P"}}},
           {"data":{"values":[{}]},
            "mark":{"type":"rule","color":"#111","strokeWidth":1},
            "encoding":{"x":{"datum":2.27,"type":"quantitative"},"x2":{"datum":7.9},"y":{"datum":0.203,"type":"quantitative"}}},
           {"data":{"values":[{}]},
            "mark":{"type":"rule","color":"#8a8a8a","strokeWidth":1,"strokeDash":[3,2]},
            "encoding":{"x":{"datum":2.27,"type":"quantitative"},"x2":{"datum":7.9},"y":{"datum":0.122,"type":"quantitative"}}},
           {"data":{"values":[{}]},
            "mark":{"type":"text","fontSize":9.5,"align":"left","baseline":"middle","color":"#222"},
            "encoding":{"x":{"datum":9.6,"type":"quantitative"},"y":{"datum":0.203,"type":"quantitative"},"text":{"value":"Top 50%"}}},
           {"data":{"values":[{}]},
            "mark":{"type":"text","fontSize":9.5,"align":"left","baseline":"middle","color":"#222"},
            "encoding":{"x":{"datum":9.6,"type":"quantitative"},"y":{"datum":0.122,"type":"quantitative"},"text":{"value":"Bottom 50%"}}},
           {"data":{"values":[{"txt":"C"}]},
            "transform":[{"calculate":"-11.85","as":"t"},{"calculate":"1.242","as":"s"}],
            "mark":{"type":"text","fontSize":14,"fontWeight":"bold","align":"left","baseline":"middle","color":"#000"},
            "encoding":{"text":{"field":"txt"}}},
           {"data":{"values":[{"txt":"CoMMpass (MAGI2)"}]},
            "transform":[{"calculate":"27.4","as":"t"},{"calculate":"1.129","as":"s"}],
            "mark":{"type":"text","fontSize":11.3,"align":"center","baseline":"middle","color":"#111"},
            "encoding":{"text":{"field":"txt"}}}
          ]
         },
         {
          "width":165,"height":158,
          "view":{"stroke":"#999","strokeWidth":1},
          "encoding":{
           "x":{"field":"t","type":"quantitative","scale":{"domain":[0,59.8],"nice":false,"zero":false},
             "axis":{"values":[0,10,20,30,40,50],"title":"PFS(month)","tickSize":3,"labelPadding":0,"titlePadding":0,"labelFontSize":11,"titleFontSize":11.3,"labelFlush":false,"tickColor":"#777"}},
           "y":{"field":"s","type":"quantitative","scale":{"domain":[-0.036,1.041],"nice":false,"zero":false},
             "axis":{"values":[0,0.2,0.4,0.6,0.8,1.0],"labelExpr":"abs(datum.value-0.6) < 0.01 ? '1.6' : format(datum.value, '.1f')","title":null,"tickSize":4,"labelPadding":1.5,"labelFontSize":11.5,"tickColor":"#777"}}
          },
          "layer":[
           {"data":{"name":"km"},
            "transform":[{"filter":"datum.study == 'HOVON' && datum.grp == 'Bottom 50%'"},{"flatten":["pt"]},{"calculate":"datum.pt[0]","as":"t"},{"calculate":"datum.pt[1]","as":"s"}],
            "mark":{"type":"line","interpolate":"step-after","strokeWidth":0.9,"color":"#8a8a8a","strokeDash":[3,2]},
            "encoding":{"order":{"field":"t"}}},
           {"data":{"name":"km"},
            "transform":[{"filter":"datum.study == 'HOVON' && datum.grp == 'Top 50%'"},{"flatten":["pt"]},{"calculate":"datum.pt[0]","as":"t"},{"calculate":"datum.pt[1]","as":"s"}],
            "mark":{"type":"line","interpolate":"step-after","strokeWidth":0.9,"color":"#111"},
            "encoding":{"order":{"field":"t"}}},
           {"data":{"name":"cens"},
            "transform":[{"filter":"datum.study == 'HOVON' && datum.grp == 'Bottom 50%'"},{"flatten":["pt"]},{"calculate":"datum.pt[0]","as":"t"},{"calculate":"datum.pt[1]","as":"s"}],
            "mark":{"type":"point","shape":"M-1,0L1,0M0,-1L0,1","filled":false,"size":30,"strokeWidth":0.7,"color":"#8a8a8a","opacity":1}},
           {"data":{"name":"cens"},
            "transform":[{"filter":"datum.study == 'HOVON' && datum.grp == 'Top 50%'"},{"flatten":["pt"]},{"calculate":"datum.pt[0]","as":"t"},{"calculate":"datum.pt[1]","as":"s"}],
            "mark":{"type":"point","shape":"M-1,0L1,0M0,-1L0,1","filled":false,"size":30,"strokeWidth":0.7,"color":"#111","opacity":1}},
           {"data":{"values":[{}]},
            "mark":{"type":"text","fontSize":11,"align":"right","baseline":"middle","color":"#111"},
            "encoding":{"x":{"datum":58.8,"type":"quantitative"},"y":{"datum":0.966,"type":"quantitative"},"text":{"value":"= 0.03"}}},
           {"data":{"values":[{}]},
            "mark":{"type":"text","fontSize":11,"fontStyle":"italic","align":"right","baseline":"middle","color":"#111","dx":-34},
            "encoding":{"x":{"datum":58.8,"type":"quantitative"},"y":{"datum":0.966,"type":"quantitative"},"text":{"value":"P"}}},
           {"data":{"values":[{}]},
            "mark":{"type":"rule","color":"#111","strokeWidth":1},
            "encoding":{"x":{"datum":2.64,"type":"quantitative"},"x2":{"datum":8.7},"y":{"datum":0.198,"type":"quantitative"}}},
           {"data":{"values":[{}]},
            "mark":{"type":"rule","color":"#8a8a8a","strokeWidth":1,"strokeDash":[3,2]},
            "encoding":{"x":{"datum":2.64,"type":"quantitative"},"x2":{"datum":8.7},"y":{"datum":0.119,"type":"quantitative"}}},
           {"data":{"values":[{}]},
            "mark":{"type":"text","fontSize":9.5,"align":"left","baseline":"middle","color":"#222"},
            "encoding":{"x":{"datum":9.9,"type":"quantitative"},"y":{"datum":0.198,"type":"quantitative"},"text":{"value":"Top 50%"}}},
           {"data":{"values":[{}]},
            "mark":{"type":"text","fontSize":9.5,"align":"left","baseline":"middle","color":"#222"},
            "encoding":{"x":{"datum":9.9,"type":"quantitative"},"y":{"datum":0.119,"type":"quantitative"},"text":{"value":"Bottom 50%"}}},
           {"data":{"values":[{"txt":"HOVON (MAGI2)"}]},
            "transform":[{"calculate":"29.9","as":"t"},{"calculate":"1.109","as":"s"}],
            "mark":{"type":"text","fontSize":11.3,"align":"center","baseline":"middle","color":"#111"},
            "encoding":{"text":{"field":"txt"}}}
          ]
         }
        ],
        "spacing":27,
        "bounds":"flush"
       }
      ],
      "spacing":9,
      "bounds":"flush"
     }
    ],
    "spacing":11.1,
    "bounds":"full"
   },
   {
    "width":314,"height":471,
    "encoding":{
     "x":{"field":"x","type":"quantitative","scale":{"domain":[-21.6,1672.8],"nice":false,"zero":false},"axis":null},
     "y":{"field":"y","type":"quantitative","scale":{"domain":[-0.474,0,3,4,18,19.002],"range":[0,10,73.3,96.7,446,471],"nice":false,"zero":false},
       "axis":{"title":"Signal of H3K27ac reads count","labels":false,"ticks":false,"domain":false,"titleFontSize":11,"titlePadding":3,"titleY":245}}
    },
    "layer":[
     {"data":{"name":"spk"},
      "transform":[{"flatten":["s"]},{"calculate":"datum.s[0]","as":"x"},{"calculate":"datum.i","as":"y"},{"calculate":"datum.i - datum.s[1]*(datum.i < 4 ? 0.68 : 0.57)","as":"y2"}],
      "mark":{"type":"rule","strokeWidth":0.9,"opacity":0.55},
      "encoding":{"y2":{"field":"y2"},
        "color":{"condition":[{"test":"datum.t == 'Daudi'","value":"#666666"},{"test":"datum.t == 'RAJI'","value":"#333333"},{"test":"datum.t == 'MBC'","value":"#f5a623"},{"test":"datum.t == 'NPC'","value":"#6cbd45"}],"value":"#2e6db4"}}},
     {"data":{"name":"tracks"},
      "transform":[{"calculate":"0","as":"x"},{"calculate":"1500","as":"x2"},{"calculate":"datum.i","as":"y"}],
      "mark":{"type":"rule","strokeWidth":1},
      "encoding":{"x2":{"field":"x2"},
        "color":{"condition":[{"test":"datum.t == 'Daudi'","value":"#666666"},{"test":"datum.t == 'RAJI'","value":"#333333"},{"test":"datum.t == 'MBC'","value":"#f5a623"},{"test":"datum.t == 'NPC'","value":"#6cbd45"}],"value":"#2e6db4"}}},
     {"data":{"name":"tracks"},
      "transform":[{"calculate":"0","as":"x"},{"calculate":"datum.i","as":"y"},{"calculate":"datum.i - (datum.i < 4 ? 0.68 : 0.57)","as":"y2"}],
      "mark":{"type":"rule","strokeWidth":1},
      "encoding":{"y2":{"field":"y2"},
        "color":{"condition":[{"test":"datum.t == 'Daudi'","value":"#666666"},{"test":"datum.t == 'RAJI'","value":"#333333"},{"test":"datum.t == 'MBC'","value":"#f5a623"},{"test":"datum.t == 'NPC'","value":"#6cbd45"}],"value":"#2e6db4"}}},
     {"data":{"name":"tracks"},
      "transform":[{"calculate":"-10","as":"x"},{"calculate":"0","as":"x2"},{"calculate":"datum.i - (datum.i < 4 ? 0.68 : 0.57)","as":"y"}],
      "mark":{"type":"rule","strokeWidth":1},
      "encoding":{"x2":{"field":"x2"},
        "color":{"condition":[{"test":"datum.t == 'Daudi'","value":"#666666"},{"test":"datum.t == 'RAJI'","value":"#333333"},{"test":"datum.t == 'MBC'","value":"#f5a623"},{"test":"datum.t == 'NPC'","value":"#6cbd45"}],"value":"#2e6db4"}}},
     {"data":{"name":"tracks"},
      "transform":[{"calculate":"18","as":"x"},{"calculate":"datum.i","as":"y"}],
      "mark":{"type":"text","fontSize":7.5,"align":"left","baseline":"middle","dy":-10},
      "encoding":{"text":{"field":"t"},
        "color":{"condition":[{"test":"datum.t == 'Daudi' || datum.t == 'RAJI'","value":"#222222"},{"test":"datum.t == 'MBC'","value":"#f5a623"},{"test":"datum.t == 'NPC'","value":"#6cbd45"}],"value":"#2e6db4"}}},
     {"data":{"name":"se"},
      "transform":[{"calculate":"datum.a","as":"x"},{"calculate":"datum.b","as":"x2"},{"calculate":"datum.i + 0.12","as":"y"}],
      "mark":{"type":"rule","strokeWidth":3.5,"color":"#e8141b"},
      "encoding":{"x2":{"field":"x2"}}},
     {"data":{"values":[{"x":-5,"x2":1295,"y":18.76}]},
      "mark":{"type":"rule","strokeWidth":0.8,"color":"#999"},
      "encoding":{"x2":{"field":"x2"}}},
     {"data":{"name":"exons"},
      "transform":[{"flatten":["p"]},{"calculate":"datum.p","as":"x"},{"calculate":"18.62","as":"y"},{"calculate":"18.9","as":"y2"}],
      "mark":{"type":"rule","strokeWidth":1,"color":"#777"},
      "encoding":{"y2":{"field":"y2"}}},
     {"data":{"values":[{"x":1439,"y":18.76,"txt":"MAGI2"}]},
      "mark":{"type":"text","fontSize":10.5,"align":"center","baseline":"middle","color":"#111"},
      "encoding":{"text":{"field":"txt"}}},
     {"data":{"name":"groups"},
      "transform":[{"calculate":"1532","as":"x"},{"calculate":"datum.a - 0.6","as":"y"},{"calculate":"datum.b + 0.05","as":"y2"}],
      "mark":{"type":"rule","strokeWidth":1.2,"color":"#111"},
      "encoding":{"y2":{"field":"y2"}}},
     {"data":{"name":"groups"},
      "transform":[{"calculate":"1585","as":"x"},{"calculate":"(datum.a + datum.b)/2","as":"y"}],
      "mark":{"type":"text","fontSize":11,"angle":90,"align":"center","baseline":"middle","color":"#111"},
      "encoding":{"text":{"field":"g"}}},
     {"data":{"values":[{"x":948,"x2":1448,"y":-1.057}]},
      "mark":{"type":"rule","strokeWidth":0.8,"color":"#333"},
      "encoding":{"x2":{"field":"x2"}}},
     {"data":{"values":[{"x":948,"y":-1.13,"y2":-0.985},{"x":1448,"y":-1.13,"y2":-0.985}]},
      "mark":{"type":"rule","strokeWidth":0.8,"color":"#333"},
      "encoding":{"y2":{"field":"y2"}}},
     {"data":{"values":[{"x":1190,"y":-1.341,"txt":"500 kb"},{"x":457,"y":-1.028,"txt":"Chr7:78,000,000-79,000,000"}]},
      "mark":{"type":"text","fontSize":9,"align":"center","baseline":"middle","color":"#111"},
      "encoding":{"text":{"field":"txt"}}},
     {"data":{"values":[{"txt":"D"}]},
      "transform":[{"calculate":"-232","as":"x"},{"calculate":"-1.104","as":"y"}],
      "mark":{"type":"text","fontSize":14,"fontWeight":"bold","align":"left","baseline":"middle","color":"#000"},
      "encoding":{"text":{"field":"txt"}}}
    ]
   }
  ],
  "spacing":40.5,
  "bounds":"full"
 }
]
}
